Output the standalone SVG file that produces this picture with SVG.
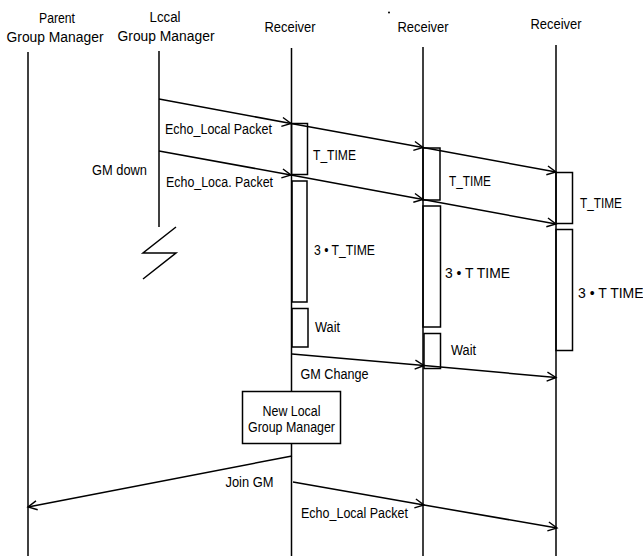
<svg xmlns="http://www.w3.org/2000/svg" width="643" height="556" viewBox="0 0 643 556">
<style>
text{font-family:"Liberation Sans",Arial,Helvetica,sans-serif;font-size:14px;fill:#000}
.c{text-anchor:middle}
.life{stroke:#000;stroke-width:1.5;fill:none}
.act{stroke:#000;stroke-width:1.5;fill:none}
.msg{stroke:#000;stroke-width:1.5;fill:none;marker-mid:url(#ah);marker-end:url(#ah)}
</style>
<defs>
<marker id="ah" markerWidth="12" markerHeight="12" viewBox="-10 -6 12 12" refX="0" refY="0" orient="auto" markerUnits="userSpaceOnUse">
<path d="M-9,-4.5 L0,0 L-9,4.5" fill="none" stroke="#000" stroke-width="1.4"/>
</marker>
</defs>
<rect width="643" height="556" fill="#fff"/>

<g id="parent-gm">
<text class="c" x="57" y="23" textLength="36" lengthAdjust="spacingAndGlyphs">Parent</text>
<text class="c" x="55" y="41.5" textLength="97" lengthAdjust="spacingAndGlyphs">Group Manager</text>
<line class="life" x1="28" y1="52" x2="28" y2="556"/>
</g>

<g id="local-gm">
<text class="c" x="165" y="21.5" textLength="31" lengthAdjust="spacingAndGlyphs">Lccal</text>
<text class="c" x="166" y="41" textLength="97" lengthAdjust="spacingAndGlyphs">Group Manager</text>
<line class="life" x1="159" y1="51" x2="159" y2="227"/>
<polyline class="life" points="176,227 143,253 176,253 143,279"/>
<text x="92" y="175" textLength="55" lengthAdjust="spacingAndGlyphs">GM down</text>
</g>

<g id="receiver-1">
<text class="c" x="290" y="31.5" textLength="51" lengthAdjust="spacingAndGlyphs">Receiver</text>
<line class="life" x1="291.5" y1="48" x2="291.5" y2="556"/>
<rect class="act" x="291.5" y="123.5" width="16" height="51"/>
<rect class="act" x="292" y="181" width="15" height="121"/>
<rect class="act" x="292" y="308.5" width="16" height="38.5"/>
<text x="313" y="160" textLength="43" lengthAdjust="spacingAndGlyphs">T_TIME</text>
<text x="314" y="254.5" textLength="61" lengthAdjust="spacingAndGlyphs">3 • T_TIME</text>
<text x="315" y="332" textLength="25" lengthAdjust="spacingAndGlyphs">Wait</text>
</g>

<g id="receiver-2">
<circle cx="389" cy="12.5" r="1" fill="#000"/>
<text class="c" x="423" y="31.5" textLength="51" lengthAdjust="spacingAndGlyphs">Receiver</text>
<line class="life" x1="423" y1="47" x2="423" y2="556"/>
<rect class="act" x="423" y="148" width="17" height="52"/>
<rect class="act" x="423" y="206" width="17.5" height="121"/>
<rect class="act" x="424" y="333.5" width="16.5" height="35"/>
<text x="449" y="186" textLength="42" lengthAdjust="spacingAndGlyphs">T_TIME</text>
<text x="445" y="277.5" textLength="65" lengthAdjust="spacingAndGlyphs">3 • T TIME</text>
<text x="451" y="354.5" textLength="25" lengthAdjust="spacingAndGlyphs">Wait</text>
</g>

<g id="receiver-3">
<text class="c" x="556" y="29" textLength="51" lengthAdjust="spacingAndGlyphs">Receiver</text>
<line class="life" x1="556" y1="45" x2="556" y2="556"/>
<rect class="act" x="556" y="172.5" width="16.5" height="51"/>
<rect class="act" x="556" y="229.5" width="16.5" height="121"/>
<text x="580" y="208" textLength="42" lengthAdjust="spacingAndGlyphs">T_TIME</text>
<text x="578" y="297.5" font-size="12.5">3 • T TIME</text>
</g>

<g id="new-local-gm">
<rect x="242.5" y="391.5" width="98" height="52" fill="#fff" stroke="#000" stroke-width="1.5"/>
<text class="c" x="291.5" y="415.5" textLength="58" lengthAdjust="spacingAndGlyphs">New Local</text>
<text class="c" x="291.5" y="432" textLength="87" lengthAdjust="spacingAndGlyphs">Group Manager</text>
</g>

<g id="connectors">
<path class="msg" d="M159,99 L291,123.5 L423,147.5 L556,172"/>
<path class="msg" d="M159,151 L291,175 L423,199.5 L556,224"/>
<path class="msg" d="M292,354 L424,365.5 L556,377.5"/>
<path class="msg" d="M292,456 L28,507"/>
<path class="msg" d="M293,482 L424,505 L557,528"/>
<text x="165" y="134" textLength="107" lengthAdjust="spacingAndGlyphs">Echo_Local Packet</text>
<text x="166" y="187" textLength="107" lengthAdjust="spacingAndGlyphs">Echo_Loca. Packet</text>
<text x="300.5" y="379" textLength="68" lengthAdjust="spacingAndGlyphs">GM Change</text>
<text x="225.5" y="487" textLength="48" lengthAdjust="spacingAndGlyphs">Join GM</text>
<text x="301" y="518" textLength="107" lengthAdjust="spacingAndGlyphs">Echo_Local Packet</text>
</g>
</svg>
